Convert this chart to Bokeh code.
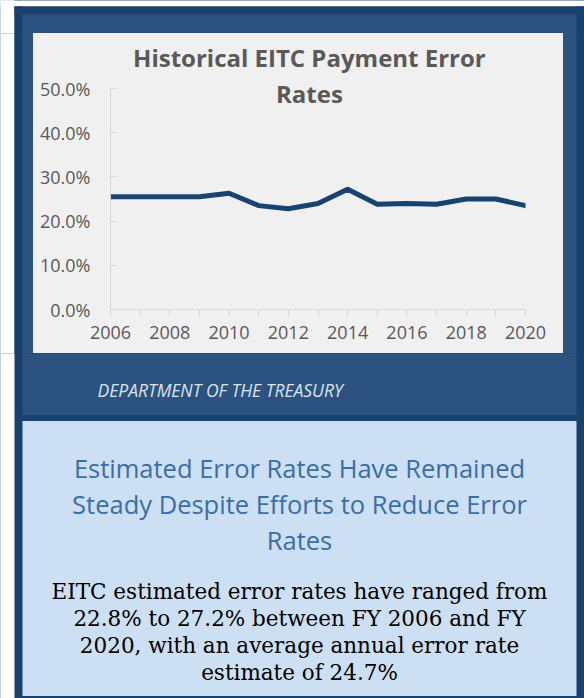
from bokeh.plotting import figure
from bokeh.layouts import column, row
from bokeh.models import Range1d, FixedTicker, NumeralTickFormatter, Label, Plot
from bokeh.core.properties import value
from bokeh.embed import file_html
from bokeh.resources import INLINE

# ---------------- data ----------------
years = [2006, 2007, 2008, 2009, 2010, 2011, 2012, 2013, 2014, 2015, 2016, 2017, 2018, 2019, 2020]
error_rates_pct = [25.5, 25.5, 25.5, 25.5, 26.3, 23.5, 22.8, 24.0, 27.2, 23.8, 24.0, 23.8, 25.0, 25.0, 23.5]
y_tick_values = [0.0, 0.1, 0.2, 0.3, 0.4, 0.5]
x_label_years = [2006, 2008, 2010, 2012, 2014, 2016, 2018, 2020]
title_lines = ["Historical EITC Payment Error", "Rates"]
source_text = "DEPARTMENT OF THE TREASURY"
heading_lines = ["Estimated Error Rates Have Remained",
                 "Steady Despite Efforts to Reduce Error",
                 "Rates"]
body_lines = ["EITC estimated error rates have ranged from",
              "22.8% to 27.2% between FY 2006 and FY",
              "2020, with an average annual error rate",
              "estimate of 24.7%"]

error_rates = [v / 100.0 for v in error_rates_pct]

# ---------------- colours ----------------
WHITE = "#ffffff"
DARK = "#17416e"
MID = "#2c527f"
GREY = "#f0f0f0"
LIGHT = "#cddff3"
AXIS = "#d9d9d9"
TXT = "#595959"
LINE = "#17436f"
HEAD = "#3a6ea6"
SANS = "Open Sans"

HAS_FA = "frame_align" in Plot.properties()

COL_CSS = {"background": ("linear-gradient(to right, #ffffff 0px, #ffffff 14px, "
                          "#17416e 14px, #17416e 22px, #2c527f 22px, #2c527f 576px, "
                          "#17416e 576px, #17416e 584px)")}
ROW_CSS = {"background": ("linear-gradient(to right, #ffffff 0px, #ffffff 14px, "
                          "#17416e 14px, #17416e 22px, #2c527f 22px, #2c527f 33px, "
                          "#f0f0f0 33px, #f0f0f0 563px, #2c527f 563px, #2c527f 576px, "
                          "#17416e 576px, #17416e 584px)")}


def no_align(f):
    if HAS_FA:
        f.frame_align = False
    return f


def block(w, h, x0, y0, fill):
    f = figure(width=w, height=h, x_range=Range1d(x0, x0 + w), y_range=Range1d(y0 + h, y0),
               output_backend="svg", toolbar_location=None, min_border=0,
               x_axis_location=None, y_axis_location=None)
    f.grid.visible = False
    f.outline_line_color = None
    f.background_fill_color = fill
    f.border_fill_color = fill
    return no_align(f)


def rect(f, l, r, t, b, color):
    f.quad(left=[l], right=[r], top=[t], bottom=[b], fill_color=color, line_color=None)


# ---------------- top strip (y 0..33) ----------------
top = block(584, 33, 0, 0, MID)
rect(top, -10, 600, -10, 6, WHITE)
rect(top, -10, 14, -10, 40, WHITE)
rect(top, 14, 22, 6, 40, DARK)
rect(top, 14, 600, 6, 14, DARK)
rect(top, 576, 600, 6, 40, DARK)

# ---------------- left / right strips (y 33..353) ----------------
left = block(33, 320, 0, 33, MID)
rect(left, -10, 14, 20, 370, WHITE)
rect(left, 14, 22, 20, 370, DARK)

right = block(21, 320, 563, 33, MID)
rect(right, 576, 600, 20, 370, DARK)

# ---------------- chart ----------------
# frame: x 110..525, y 33..309 (0% at 309, 50% at 88 -> 442 px per 100%)
p = figure(width=530, height=320, x_range=Range1d(2006, 2020), y_range=Range1d(0, 0.5 * 276 / 221),
           output_backend="svg", toolbar_location=None,
           min_border_left=77, min_border_right=38, min_border_top=0, min_border_bottom=44)
no_align(p)
p.background_fill_color = GREY
p.border_fill_color = GREY
p.outline_line_color = None
p.grid.visible = False

p.line(years, error_rates, line_width=5, line_color=LINE, line_cap="round", line_join="round")

p.yaxis.ticker = FixedTicker(ticks=y_tick_values)
p.yaxis.bounds = (0, 0.5)
p.yaxis.formatter = NumeralTickFormatter(format="0.0%")
p.yaxis.axis_line_color = AXIS
p.yaxis.major_tick_line_color = AXIS
p.yaxis.major_tick_in = 7
p.yaxis.major_tick_out = 0
p.yaxis.minor_tick_line_color = None
p.yaxis.major_label_standoff = 20
p.yaxis.major_label_text_font = SANS
p.yaxis.major_label_text_font_size = "18px"
p.yaxis.major_label_text_color = TXT

p.xaxis.ticker = FixedTicker(ticks=x_label_years, minor_ticks=years)
p.xaxis.axis_line_color = AXIS
p.xaxis.major_tick_line_color = AXIS
p.xaxis.minor_tick_line_color = AXIS
p.xaxis.major_tick_in = 0
p.xaxis.major_tick_out = 7
p.xaxis.minor_tick_in = 0
p.xaxis.minor_tick_out = 7
p.xaxis.major_label_standoff = 9
p.xaxis.major_label_text_font = SANS
p.xaxis.major_label_text_font_size = "18px"
p.xaxis.major_label_text_color = TXT

title_y = [0.5705, 0.4897]
for txt, ty in zip(title_lines, title_y):
    p.add_layout(Label(x=2012.71, y=ty, text=txt, text_align="center", text_baseline="middle",
                       text_font=SANS, text_font_style="bold", text_font_size="24px",
                       text_color=TXT))

# ---------------- bottom part (y 353..698) ----------------
bot = block(584, 345, 0, 353, DARK)
rect(bot, -10, 14, 340, 710, WHITE)
rect(bot, 22, 576, 340, 414.5, MID)
rect(bot, 22, 576, 420.5, 695.5, LIGHT)

bot.text(x=[97], y=[389], text=[source_text], text_align="left", text_baseline="middle",
         text_font=value(SANS), text_font_style="italic", text_font_size="17.5px",
         text_color="#dde3ec")

bot.text(x=[299] * len(heading_lines), y=[467, 503, 539], text=heading_lines,
         text_align="center", text_baseline="middle", text_font=value(SANS),
         text_font_size="25.5px", text_color=HEAD)

bot.text(x=[299] * len(body_lines), y=[591, 618, 645, 672], text=body_lines,
         text_align="center", text_baseline="middle", text_font=value("DejaVu Serif"),
         text_font_size="21.5px", text_color="#000000")

middle = row(left, p, right, styles=ROW_CSS)
layout = column(top, middle, bot, styles=COL_CSS)

open("out.html", "w").write(file_html(layout, INLINE))
